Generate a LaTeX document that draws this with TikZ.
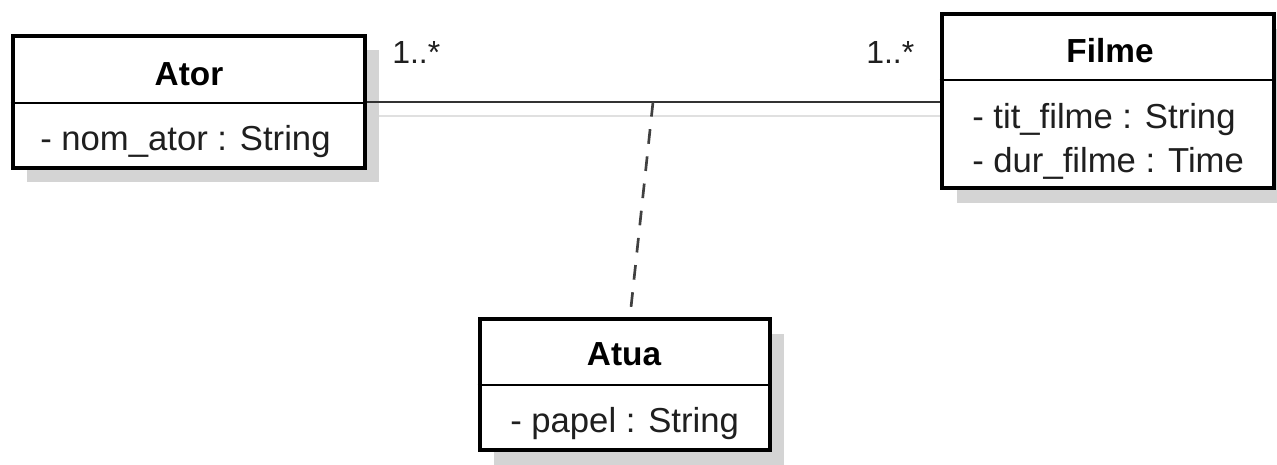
\documentclass[tikz,border=0pt]{standalone}
\usepackage{fontspec}
\setmainfont{Liberation Sans}
\begin{document}
\begin{tikzpicture}[x=0.75pt,y=-0.75pt,
  classbox/.style={draw=black, line width=3.5pt, fill=white, inner sep=0pt},
  shadowbox/.style={fill=black!17, draw=none, inner sep=0pt},
  divider/.style={line width=1.8pt},
  title/.style={font=\fontsize{25}{30}\bfseries\selectfont, anchor=base, inner sep=0pt},
  attr/.style={font=\fontsize{26}{31}\selectfont, anchor=base west, inner sep=0pt, text=black!88},
  mult/.style={font=\fontsize{24}{29}\selectfont, anchor=base west, inner sep=0pt, text=black!88},
  assoc/.style={line width=2.1pt, draw=black!80},
  assocshadow/.style={line width=1.5pt, draw=black!12},
  link/.style={line width=2pt, draw=black!75, dash pattern=on 11pt off 9.5pt}]
\useasboundingbox (0,0) rectangle (1277,464);

% drop shadows of the three classes
\node[shadowbox, minimum width=352*0.75pt, minimum height=132*0.75pt] (atorshadow) at (203,116) {};
\node[shadowbox, minimum width=332*0.75pt, minimum height=174*0.75pt] (filmeshadow) at (1123,116) {};
\node[shadowbox, minimum width=290*0.75pt, minimum height=131*0.75pt] (atuashadow) at (639,399) {};

% shadow of the association line
\draw[assocshadow] (atorshadow.east |- 0,116) -- (filmeshadow.west |- 0,116);

% class boxes
\node[classbox, minimum width=352*0.75pt, minimum height=132*0.75pt] (ator) at (189,102) {};
\node[classbox, minimum width=332*0.75pt, minimum height=174*0.75pt] (filme) at (1108,101) {};
\node[classbox, minimum width=290*0.75pt, minimum height=131*0.75pt] (atua) at (625,384.5) {};

% compartments
\draw[divider] (ator.west |- 0,103) -- (ator.east |- 0,103);
\draw[divider] (filme.west |- 0,80) -- (filme.east |- 0,80);
\draw[divider] (atua.west |- 0,385) -- (atua.east |- 0,385);

% class names
\node[title] (atorname) at (189,85) {Ator};
\node[title] (filmename) at (1110,62) {Filme};
\node[title] (atuaname) at (624,365) {Atua};

% attributes
\node[attr] (atorattr) at (40,150) {- nom\_ator : String};
\node[attr] (filmeattra) at (972,128) {- tit\_filme : String};
\node[attr] (filmeattrb) at (972,172) {- dur\_filme : Time};
\node[attr] (atuaattr) at (510,432) {- papel : String};

% association Ator -- Filme with its class
\draw[assoc] (ator.east |- 0,102) -- (filme.west |- 0,102);
\coordinate (assocmid) at (653,102);
\draw[link] (assocmid) -- ([xshift=3.75pt]atua.north);

% multiplicities
\node[mult] (multator) at (392,63) {1..*};
\node[mult] (multfilme) at (866,63) {1..*};
\end{tikzpicture}
\end{document}
